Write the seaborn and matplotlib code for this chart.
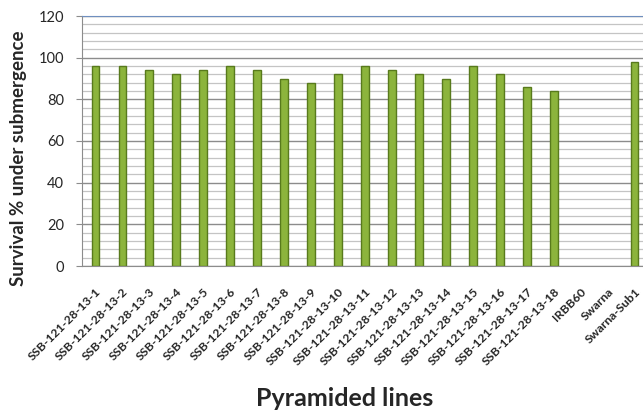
import matplotlib
matplotlib.use("Agg")
import matplotlib.pyplot as plt
import seaborn as sns
import pandas as pd
from matplotlib.ticker import MultipleLocator

sns.set_style("white")
plt.rcParams["font.family"] = ["Lato", "DejaVu Sans"]

lines = [f"SSB-121-28-13-{i}" for i in range(1, 19)] + ["IRBB60", "Swarna", "Swarna-Sub1"]
survival = [96, 96, 94, 92, 94, 96, 94, 90, 88, 92, 96, 94, 92, 90, 96, 92, 86, 84, 0, 0, 98]

df = pd.DataFrame({"line": lines, "survival": survival})

fig = plt.figure(figsize=(6.43, 4.16), dpi=100)
ax = fig.add_axes([82 / 643, 1 - 266 / 416, 566 / 643, 250 / 416])

sns.barplot(data=df, x="line", y="survival", ax=ax, color="#8cb43c",
            edgecolor="#587a1c", linewidth=1.0, width=0.29, saturation=1)
# no outline for the empty bars
for patch, v in zip(ax.patches, survival):
    if v == 0:
        patch.set_linewidth(0)

ax.set_ylim(0, 120)
ax.set_xlim(-0.5, len(lines) - 0.5)
ax.yaxis.set_major_locator(MultipleLocator(20))
ax.yaxis.set_minor_locator(MultipleLocator(4))
ax.grid(which="major", axis="y", color="#8c8c8c", linewidth=1.0)
ax.grid(which="minor", axis="y", color="#c4c4c4", linewidth=0.9)
ax.set_axisbelow(True)

ax.spines["right"].set_visible(False)
ax.spines["top"].set_color("#6f8fbf")
ax.spines["left"].set_color("#8c8c8c")
ax.spines["bottom"].set_color("#8c8c8c")

ax.tick_params(axis="y", which="major", left=True, length=4, color="#8c8c8c",
               labelsize=10.5, pad=9)
ax.tick_params(axis="y", which="minor", left=False)
ax.tick_params(axis="x", bottom=False, labelsize=8.8, pad=11)
plt.setp(ax.get_xticklabels(), rotation=45, ha="right", rotation_mode="anchor",
         fontweight="bold")

ax.set_xlabel("")
ax.set_ylabel("Survival % under submergence", fontsize=13.5, fontweight="bold")
ax.yaxis.set_label_coords(-0.097, 0.43)

fig.text(345 / 643, 1 - 398 / 416, "Pyramided lines", ha="center", va="center",
         fontsize=18, fontweight="bold")

fig.savefig("out.png", dpi=100)
